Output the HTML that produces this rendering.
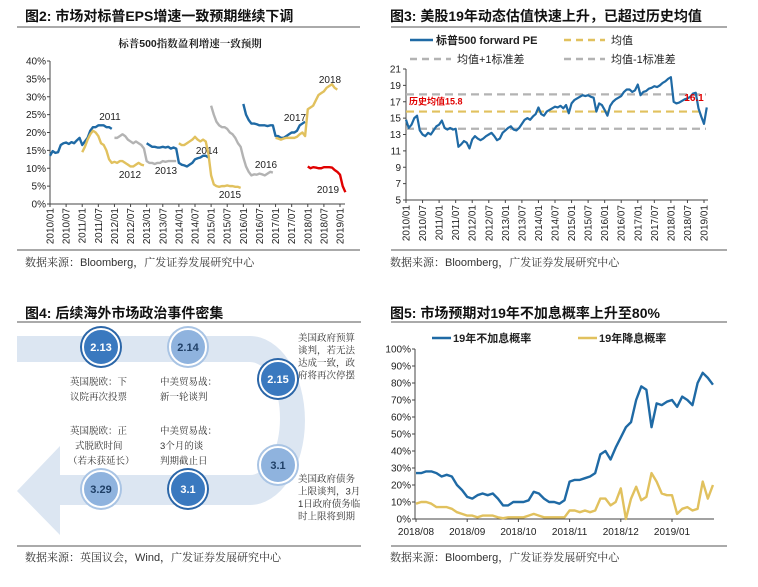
<!DOCTYPE html>
<html><head><meta charset="utf-8">
<style>
body{margin:0;background:#fff;}
svg{display:block;font-family:"Liberation Sans","Noto Sans CJK SC",sans-serif;}
.ttl{font-size:14px;font-weight:bold;fill:#111;}
.src{font-size:11px;fill:#333;font-family:"Liberation Sans","Noto Serif CJK SC",serif;}
.tk{font-size:10px;fill:#222;}
.ev{font-size:9.5px;fill:#333;font-family:"Liberation Sans","Noto Serif CJK SC",serif;}
</style></head><body>
<svg id="s" width="758" height="587" viewBox="0 0 758 587">
<g>
<text class="ttl" x="25" y="21">图2:  市场对标普EPS增速一致预期继续下调</text>
<line x1="17" y1="27" x2="360" y2="27" stroke="#555" stroke-width="1"/>
<text x="190" y="47" text-anchor="middle" font-size="10.5" font-weight="bold" fill="#222" font-family="Liberation Sans,Noto Serif CJK SC,serif">标普500指数盈利增速一致预期</text>
<line x1="17" y1="250" x2="360" y2="250" stroke="#555"/>
<text class="src" x="25" y="266">数据来源：Bloomberg，广发证券发展研究中心</text>
</g>
<g>
<text class="ttl" x="390" y="21">图3:  美股19年动态估值快速上升，已超过历史均值</text>
<line x1="391" y1="27" x2="727" y2="27" stroke="#555"/>
<line x1="391" y1="250" x2="727" y2="250" stroke="#555"/>
<text class="src" x="390" y="266">数据来源：Bloomberg，广发证券发展研究中心</text>
</g>
<g>
<text class="ttl" x="25" y="318">图4:  后续海外市场政治事件密集</text>
<line x1="17" y1="322" x2="361" y2="322" stroke="#555"/>
<line x1="17" y1="546" x2="361" y2="546" stroke="#555"/>
<text class="src" x="25" y="561">数据来源：英国议会，Wind，广发证券发展研究中心</text>
</g>
<g>
<text class="ttl" x="390" y="318">图5:  市场预期对19年不加息概率上升至80%</text>
<line x1="391" y1="322" x2="727" y2="322" stroke="#555"/>
<line x1="391" y1="546" x2="727" y2="546" stroke="#555"/>
<text class="src" x="390" y="561">数据来源：Bloomberg，广发证券发展研究中心</text>
</g>

<!-- Figure 4 diagram -->
<g>
<path d="M17,336 L250,336 A55,84.5 0 0 1 250,505 L60,505 L60,535 L17,491 L60,446 L60,475 L250,475 A30,56.5 0 0 0 250,362 L17,362 Z" fill="#dce6f2"/>
<g id="circles"></g>
<text class="ev" x="70" y="385"><tspan x="70">英国脱欧：下</tspan><tspan x="70" dy="15">议院再次投票</tspan></text>
<text class="ev" x="160" y="385"><tspan x="160">中美贸易战：</tspan><tspan x="160" dy="15">新一轮谈判</tspan></text>
<text class="ev" x="298" y="341" font-size="9"><tspan x="298">美国政府预算</tspan><tspan x="298" dy="12.5">谈判，若无法</tspan><tspan x="298" dy="12.5">达成一致，政</tspan><tspan x="298" dy="12.5">府将再次停摆</tspan></text>
<text class="ev" x="70" y="434"><tspan x="70">英国脱欧：正</tspan><tspan x="75" dy="15">式脱欧时间</tspan><tspan x="68" dy="15">（若未获延长）</tspan></text>
<text class="ev" x="160" y="434"><tspan x="160">中美贸易战：</tspan><tspan x="160" dy="15">3个月的谈</tspan><tspan x="160" dy="15">判期截止日</tspan></text>
<text class="ev" x="298" y="482" font-size="9"><tspan x="298">美国政府债务</tspan><tspan x="298" dy="12.5">上限谈判，3月</tspan><tspan x="298" dy="12.5">1日政府债务临</tspan><tspan x="298" dy="12.5">时上限将到期</tspan></text>
</g>
<g id="c1"></g><g id="c2"></g><g id="c3"></g>
</svg>
<script>
const NS="http://www.w3.org/2000/svg";
function mk(p,tag,at,txt){const e=document.createElementNS(NS,tag);for(const k in at)e.setAttribute(k,at[k]);if(txt!==undefined)e.textContent=txt;p.appendChild(e);return e;}

// ---------- Figure 4 circles ----------
const evLabels=["2.13","2.14","2.15","3.1","3.1","3.29"];
const evDark=[1,0,1,0,1,0];
const evPos=[[101,347],[188,347],[278,379],[278,465],[188,489],[101,489]];
const cg=document.getElementById('circles');
evLabels.forEach((l,i)=>{
  const g=mk(cg,'g',{});
  
  
  const [x,y]=evPos[i];
  mk(g,'circle',{cx:x,cy:y,r:21,fill:evDark[i]?'#2b66a8':'#a9c4e4'});
  mk(g,'circle',{cx:x,cy:y,r:18,fill:evDark[i]?'#3a79bf':'#8fb3de',stroke:'#fff','stroke-width':2});
  mk(g,'text',{x:x,y:y+4,'text-anchor':'middle','font-size':11,'font-weight':'bold',fill:evDark[i]?'#fff':'#1f3f66'},l);
});

// ---------- Figure 2 ----------
const f2Ticks=[0,5,10,15,20,25,30,35,40];
const f2Dates=["2010/01","2010/07","2011/01","2011/07","2012/01","2012/07","2013/01","2013/07","2014/01","2014/07","2015/01","2015/07","2016/01","2016/07","2017/01","2017/07","2018/01","2018/07","2019/01"];
const f2Starts=[2010,2011,2012,2013,2014,2015,2016,2017,2018];
const f2Colors=["#1f6aa5","#e1c15e","#b3b3b3","#1f6aa5","#e1c15e","#b3b3b3","#1f6aa5","#e1c15e","#e00000"];
const f2Names=["2011","2012","2013","2014","2015","2016","2017","2018","2019"];
const s2011=[13.5,14.8,14.3,14.5,16.5,17,17.2,16.8,17.3,17,17.8,18.5,16.5,17.5,18.5,20.5,21.5,21.5,22,22,22,21.5,21.5,21];
const s2012=[14.5,16,18,19.5,20.5,20,19,17,16.5,15,12.5,11.5,11.8,11.5,12,12,11.5,11,10.5,10.5,11,11.5,11,10.8];
const s2013=[18.5,18.5,19,19.5,19,18,17.5,17,17.5,17,16.5,15.5,12,11.5,11.5,11.2,11.5,11.5,12,11.8,12,12,12,12];
const s2014=[17,16.5,16,16,15.8,15.8,16,15.8,16,15.5,15.8,15.5,11.5,11,10.8,10.5,11,11.5,12.5,12.8,13,13.5,13.5,13];
const s2015=[17,16.5,16.5,17,17.5,18,18.8,18,17.5,18,17.5,14,8,5.5,5,4.8,5,5,5.2,5,5,4.8,4.8,4.5];
const s2016=[27.5,25,23,22,21.5,21.5,21,20,19.5,18.5,17,16,13,10.5,9,8,8.3,8.2,8.5,8.3,8,8.5,9,8.8];
const s2017=[28,25,23.5,22.5,22.5,22.3,22,22,22,21.8,22,22,19,19,18.5,18.5,19,19.5,20,20,20.5,22,22.5,23];
const s2018=[18.5,18.3,18,18.3,18.5,18.5,18.5,18.5,18.8,19.5,20,19,26.5,27,27.5,29,30.5,31,31.5,32.5,33,33.5,32.5,32];
const s2019=[10.5,10,10.3,10.2,10,10,10.3,10.3,10.3,10.2,9.5,9,8.2,5,3.3];
const f2Series=[s2011,s2012,s2013,s2014,s2015,s2016,s2017,s2018,s2019];
const f2LabelPos=[[110,120],[130,178],[166,174],[207,154],[230,198],[266,168],[295,121],[330,83],[328,193]];
(function(){
  const g=document.getElementById('c1');
  
  
  const X=t=>50+(t-2010)*(290/9), Y=v=>204-v*3.575;
  f2Ticks.forEach(v=>{const t=mk(g,'text',{class:'tk',x:46,y:Y(v)+3.5,'text-anchor':'end'},v+'%');
    
    
    mk(g,'line',{x1:47,x2:50,y1:Y(v),y2:Y(v),stroke:'#444'});});
  mk(g,'line',{x1:50,x2:50,y1:Y(40),y2:Y(0),stroke:'#444'});
  mk(g,'line',{x1:50,x2:345,y1:Y(0),y2:Y(0),stroke:'#444'});
  f2Dates.forEach(d=>{const [yy,mm]=d.split('/').map(Number);const x=X(yy+(mm-1)/12);
    mk(g,'line',{x1:x,x2:x,y1:204,y2:207,stroke:'#444'});
    const t=mk(g,'text',{class:'tk',transform:`translate(${x+3.5},208) rotate(-90)`,'text-anchor':'end','font-size':9.5},d);
    
    });
  f2Series.forEach((s,i)=>{
    const pts=s.map((v,j)=>X(f2Starts[i]+j/12)+','+Y(v)).join(' ');
    const p=mk(g,'polyline',{points:pts,fill:'none',stroke:f2Colors[i],'stroke-width':2.4,'stroke-linejoin':'round'});
    
    
    const t=mk(g,'text',{x:f2LabelPos[i][0],y:f2LabelPos[i][1],'text-anchor':'middle','font-size':10,fill:'#222'},f2Names[i]);
    
    
  });
})();

// ---------- Figure 3 ----------
const f3Ticks=[5,7,9,11,13,15,17,19,21];
const f3Dates=["2010/01","2010/07","2011/01","2011/07","2012/01","2012/07","2013/01","2013/07","2014/01","2014/07","2015/01","2015/07","2016/01","2016/07","2017/01","2017/07","2018/01","2018/07","2019/01"];
const f3Pe=[14.8,13.8,14.2,15,15.3,13.5,13,12.8,13.2,13,13.5,14,
14.2,14.7,13.8,13.6,13.8,13.6,13.7,11.5,11.8,12.2,12,11.3,
12.4,12.8,12.5,12.3,12.5,12.8,13,13.2,12.8,12.3,12.5,13.2,
13.5,13.8,14,13.6,13.5,13.8,14.3,14.8,15,14.8,15.2,15.5,
16.3,15.5,15.3,15.8,16,16.2,16.4,16.3,16.5,16.2,16.6,15.6,
16.8,17.2,17.4,17.6,17.8,17.7,17.8,17.6,17.5,15.8,16.8,16.6,
16,15.3,16.5,17,17.3,17.5,17.7,18.2,18.5,18.5,18.2,18.4,
19.1,17.8,18.2,18.3,18.6,18.7,18.9,18.8,19,19.3,19.5,19.8,
20,17,16.8,16.9,17.1,17.3,17.4,17.6,18,18.1,16.2,15.2,14.3,16.3];
const f3Mean=[15.8];
const f3Upper=[17.9];
const f3Lower=[13.7];
(function(){
  const g=document.getElementById('c2');
  
  
  const X=t=>406+(t-2010)*(298/9), Y=v=>200-(v-5)*(131/16);
  f3Ticks.forEach(v=>{const t=mk(g,'text',{class:'tk',x:401,y:Y(v)+3.5,'text-anchor':'end'},v);
    
    
    mk(g,'line',{x1:403,x2:406,y1:Y(v),y2:Y(v),stroke:'#444'});});
  mk(g,'line',{x1:406,x2:406,y1:Y(21),y2:Y(5),stroke:'#444'});
  mk(g,'line',{x1:406,x2:708,y1:Y(5),y2:Y(5),stroke:'#444'});
  f3Dates.forEach(d=>{const [yy,mm]=d.split('/').map(Number);const x=X(yy+(mm-1)/12);
    mk(g,'line',{x1:x,x2:x,y1:200,y2:203,stroke:'#444'});
    const t=mk(g,'text',{class:'tk',transform:`translate(${x+3.5},205) rotate(-90)`,'text-anchor':'end','font-size':9.5},d);
    
    });
  const hl=(v,c,n)=>{const l=mk(g,'line',{x1:406,x2:706,y1:Y(v),y2:Y(v),stroke:c,'stroke-width':2.2,'stroke-dasharray':'8,5'});
    
    };
  hl(f3Upper[0],'#b3b3b3','plus-one-sd-line');
  hl(f3Lower[0],'#b3b3b3','minus-one-sd-line');
  hl(f3Mean[0],'#e1c15e','mean-line');
  const pts=f3Pe.map((v,j)=>X(2010+j/12)+','+Y(v)).join(' ');
  const p=mk(g,'polyline',{points:pts,fill:'none',stroke:'#1f6aa5','stroke-width':2.2,'stroke-linejoin':'round'});
  
  
  const a=mk(g,'text',{x:409,y:Y(f3Mean[0])-7,'font-size':9,'font-weight':'bold',fill:'#e00000'},'历史均值'+f3Mean[0]);
  
  
  const b=mk(g,'text',{x:694,y:101,'text-anchor':'middle','font-size':10,'font-weight':'bold',fill:'#e00000'},f3Pe[f3Pe.length-1].toFixed(1).replace('16.3','16.1'));
  
  
  const leg=[[410,40,'#1f6aa5','','标普500 forward PE'],[564,40,'#e1c15e','7,5','均值'],[410,59,'#b3b3b3','7,5','均值+1标准差'],[564,59,'#b3b3b3','7,5','均值-1标准差']];
  leg.forEach((L,i)=>{const lg=mk(g,'g',{});
    
    
    mk(lg,'line',{x1:L[0],x2:L[0]+(i==0?23:41),y1:L[1],y2:L[1],stroke:L[2],'stroke-width':2.5,'stroke-dasharray':L[3]});
    mk(lg,'text',{x:L[0]+(i==0?26:47),y:L[1]+4,'font-size':11,'font-weight':i==0?'bold':'normal',fill:'#222'},L[4]);});
})();

// ---------- Figure 5 ----------
const f5Ticks=[0,10,20,30,40,50,60,70,80,90,100];
const f5Months=["2018/08","2018/09","2018/10","2018/11","2018/12","2019/01"];
const f5NoHike=[27,27,28,28,27,25,26,25,20,17,13,12,14,15,14,15,12,8,8,10,10,10,11,16,15,12,10,10,9,11,22,23,23,24,25,27,38,40,35,42,48,54,57,70,78,76,54,68,67,69,70,66,72,70,67,80,86,83,79];
const f5Cut=[9,10,10,9,7,7,7,6,4,3,2,2,1,2,2,2,1,0.5,1,1,1,1,2,3,2,1,1,1,1,1,5,5,4,5,4,5,12,12,8,10,18,0,12,19,11,13,27,22,15,14,14,3,6,7,5,6,22,12,20];
(function(){
  const g=document.getElementById('c3');
  
  
  const X=m=>416+m*51.2, Y=v=>519-v*1.7;
  f5Ticks.forEach(v=>{const t=mk(g,'text',{class:'tk',x:411,y:Y(v)+3.5,'text-anchor':'end'},v+'%');
    
    
    mk(g,'line',{x1:412,x2:415,y1:Y(v),y2:Y(v),stroke:'#444'});});
  mk(g,'line',{x1:415,x2:415,y1:Y(100),y2:Y(0),stroke:'#444'});
  mk(g,'line',{x1:415,x2:714,y1:Y(0),y2:Y(0),stroke:'#444'});
  f5Months.forEach((d,i)=>{const x=X(i);
    mk(g,'line',{x1:x,x2:x,y1:519,y2:522,stroke:'#444'});
    const t=mk(g,'text',{class:'tk',x:x,y:535,'text-anchor':'middle'},d);
    
    });
  const line=(arr,c,n)=>{const p=mk(g,'polyline',{points:arr.map((v,j)=>X(j*0.1)+','+Y(v)).join(' '),fill:'none',stroke:c,'stroke-width':2.4,'stroke-linejoin':'round'});
    
    };
  line(f5Cut,'#e1c15e','rate-cut-line');
  line(f5NoHike,'#1f6aa5','no-hike-line');
  const leg=[[432,'#1f6aa5','19年不加息概率'],[578,'#e1c15e','19年降息概率']];
  leg.forEach((L,i)=>{const lg=mk(g,'g',{});
    
    
    mk(lg,'line',{x1:L[0],x2:L[0]+19,y1:338,y2:338,stroke:L[1],'stroke-width':2.5});
    mk(lg,'text',{x:L[0]+21,y:342,'font-size':11,'font-weight':'bold',fill:'#222'},L[2]);});
})();
</script>
</body></html>
